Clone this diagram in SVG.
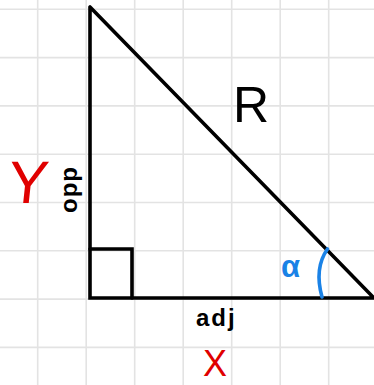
<svg xmlns="http://www.w3.org/2000/svg" width="374" height="385" viewBox="0 0 374 385">
<style>
.grid line{stroke:#e3e3e3;stroke-width:1.6}
.edge{stroke:#000;stroke-width:3.6;fill:none;stroke-linecap:round;stroke-linejoin:miter}
.hand{font-family:"Liberation Sans",Arial,sans-serif}
.red{fill:#e00000}
.blue{fill:#1a82e6}
</style>
<rect width="374" height="385" fill="#fff"/>
<g class="grid" id="grid">
<line x1="37.7" y1="0" x2="37.7" y2="385"/>
<line x1="86.2" y1="0" x2="86.2" y2="385"/>
<line x1="134.7" y1="0" x2="134.7" y2="385"/>
<line x1="183.2" y1="0" x2="183.2" y2="385"/>
<line x1="231.7" y1="0" x2="231.7" y2="385"/>
<line x1="280.2" y1="0" x2="280.2" y2="385"/>
<line x1="328.7" y1="0" x2="328.7" y2="385"/>
<line x1="0" y1="9.3" x2="374" y2="9.3"/>
<line x1="0" y1="57.6" x2="374" y2="57.6"/>
<line x1="0" y1="105.9" x2="374" y2="105.9"/>
<line x1="0" y1="154.2" x2="374" y2="154.2"/>
<line x1="0" y1="202.5" x2="374" y2="202.5"/>
<line x1="0" y1="250.8" x2="374" y2="250.8"/>
<line x1="0" y1="299.1" x2="374" y2="299.1"/>
<line x1="0" y1="347.4" x2="374" y2="347.4"/>
</g>
<g id="triangle">
<path class="edge" d="M90 7 L90 298 L374 298 M90 7 L373 297"/>
<path class="edge" d="M90 249 L132 249 L132 298"/>
</g>
<g id="angle">
<path d="M327.5 249 Q314 268 322 297" fill="none" stroke="#1a82e6" stroke-width="3.6" stroke-linecap="round"/>
<text class="hand blue" x="281" y="277" font-size="31" font-weight="bold">α</text>
</g>
<g id="labels">
<text class="hand" x="233" y="122" font-size="50">R</text>
<text class="hand" transform="translate(77 213) rotate(-90)" font-size="24" font-weight="bold" letter-spacing="1">opp</text>
<text class="hand" x="196" y="326" font-size="24" font-weight="bold" letter-spacing="2">adj</text>
<text class="hand red" transform="translate(6 203) skewX(-6)" font-size="60">Y</text>
<text class="hand red" x="203" y="376" font-size="36">X</text>
</g>
</svg>
